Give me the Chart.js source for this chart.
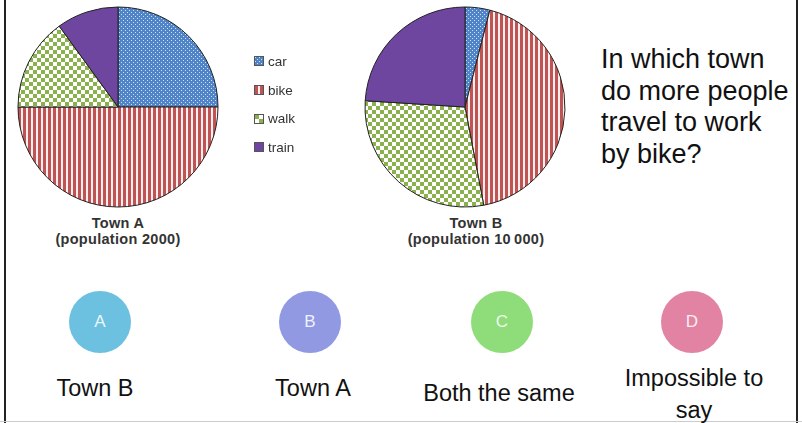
<!DOCTYPE html>
<html>
<head>
<meta charset="utf-8">
<script src="https://cdn.jsdelivr.net/npm/chart.js@4.4.1/dist/chart.umd.min.js"></script>
<style>
  html, body { margin: 0; padding: 0; background: #fff; }
  #slide { position: relative; width: 802px; height: 423px; overflow: hidden; font-family: "Liberation Sans", Arial, sans-serif; }
  .edge { position: absolute; top: 0; bottom: 0; width: 2px; background: #222; }
  .bottomline { position: absolute; left: 0; right: 0; top: 421px; height: 1px; background: #ccc; }
  canvas.pie { position: absolute; }
  .ptitle { position: absolute; width: 220px; text-align: center; font-weight: bold; font-size: 14.5px; letter-spacing: 0.3px; color: #333; line-height: 16px; }
  #legend { position: absolute; left: 254px; top: 47px; }
  .lg { display: flex; align-items: center; height: 28.7px; font-size: 13.5px; color: #333; }
  .lg canvas { margin-right: 4px; border: 1px solid #555; }
  #question { position: absolute; left: 601px; top: 44px; font-size: 27px; line-height: 31.7px; color: #111; }
  .opt { position: absolute; width: 62px; height: 62px; border-radius: 50%; color: rgba(255,255,255,0.88); font-size: 17px; text-align: center; line-height: 62px; }
  .ans { position: absolute; width: 220px; text-align: center; font-size: 23.5px; color: #111; line-height: 32px; }
</style>
</head>
<body>
<div id="slide">
  <div class="edge" style="left:4px"></div>
  <div class="edge" style="left:796px"></div>
  <div class="bottomline"></div>

  <canvas id="pieA" class="pie" width="210" height="210" style="left:13px; top:2px"></canvas>
  <canvas id="pieB" class="pie" width="210" height="210" style="left:360px; top:2px"></canvas>

  <div class="ptitle" style="left:8px; top:215px">Town A<br>(population 2000)</div>
  <div class="ptitle" style="left:366px; top:215px">Town B<br>(population 10&#8201;000)</div>

  <div id="legend"></div>

  <div id="question">In which town<br>do more people<br>travel to work<br>by bike?</div>

  <div class="opt" style="left:69px; top:291px; background:#6cc0e0">A</div>
  <div class="opt" style="left:279px; top:291px; background:#9199e3">B</div>
  <div class="opt" style="left:471px; top:291px; background:#8fdc7a">C</div>
  <div class="opt" style="left:661px; top:291px; background:#e283a3">D</div>

  <div class="ans" style="left:-15px; top:372px">Town B</div>
  <div class="ans" style="left:203px; top:372px">Town A</div>
  <div class="ans" style="left:389px; top:377px">Both the same</div>
  <div class="ans" style="left:584px; top:362px">Impossible to<br>say</div>
</div>

<script>
// travel modes and the share of commuters using each one
const modes = ['car', 'bike', 'walk', 'train'];
const townA = [25, 50, 15, 10];
const townB = [4, 43, 29, 24];

// hatch fills, one per mode
function makeTile(mode) {
  const t = document.createElement('canvas');
  const g = t.getContext('2d');
  if (mode === 'car') {
    t.width = 4; t.height = 4;
    g.fillStyle = '#4f84c8'; g.fillRect(0, 0, 4, 4);
    g.fillStyle = 'rgba(255,255,255,0.75)';
    g.fillRect(0, 0, 1, 1); g.fillRect(2, 2, 1, 1);
  } else if (mode === 'bike') {
    t.width = 5; t.height = 5;
    g.fillStyle = '#fbeeee'; g.fillRect(0, 0, 5, 5);
    g.fillStyle = '#c05454'; g.fillRect(0, 0, 3, 5);
  } else if (mode === 'walk') {
    t.width = 8; t.height = 8;
    g.fillStyle = '#ffffff'; g.fillRect(0, 0, 8, 8);
    g.fillStyle = '#8bb04e';
    g.fillRect(0, 0, 4, 4); g.fillRect(4, 4, 4, 4);
  } else {
    t.width = 2; t.height = 2;
    g.fillStyle = '#6e46a0'; g.fillRect(0, 0, 2, 2);
  }
  return t;
}

function fills(ctx) {
  return modes.map(m => ctx.createPattern(makeTile(m), 'repeat'));
}

function drawPie(id, values) {
  const ctx = document.getElementById(id).getContext('2d');
  return new Chart(ctx, {
    type: 'pie',
    data: {
      labels: modes,
      datasets: [{
        data: values,
        backgroundColor: fills(ctx),
        borderColor: '#222',
        borderWidth: 1,
      }],
    },
    options: {
      responsive: false,
      animation: false,
      radius: 100,
      layout: { padding: 0 },
      plugins: { legend: { display: false }, tooltip: { enabled: false } },
    },
  });
}

drawPie('pieA', townA);
drawPie('pieB', townB);

// shared legend between the two pies
const legend = document.getElementById('legend');
modes.forEach(m => {
  const row = document.createElement('div');
  row.className = 'lg';
  const sw = document.createElement('canvas');
  sw.width = 8; sw.height = 8;
  const g = sw.getContext('2d');
  g.fillStyle = g.createPattern(makeTile(m), 'repeat');
  g.fillRect(0, 0, 8, 8);
  row.appendChild(sw);
  row.appendChild(document.createTextNode(m));
  legend.appendChild(row);
});
</script>
</body>
</html>
